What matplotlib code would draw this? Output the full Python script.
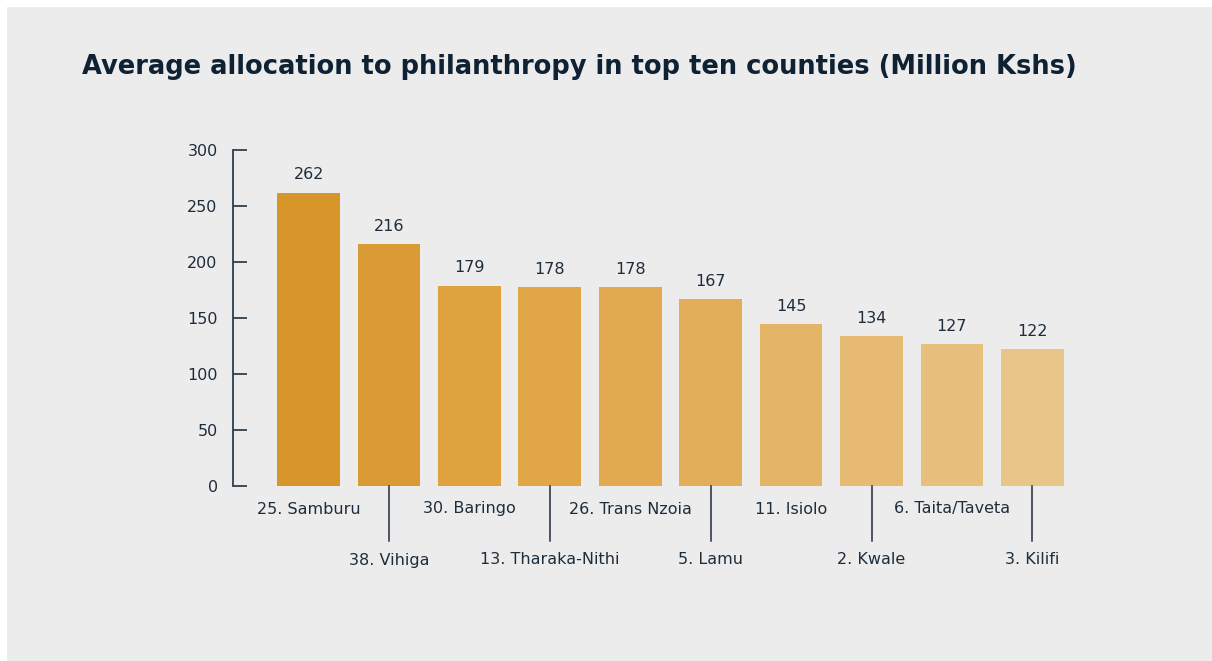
import matplotlib.pyplot as plt
from matplotlib.patches import Rectangle

counties = ["25. Samburu", "38. Vihiga", "30. Baringo", "13. Tharaka-Nithi",
            "26. Trans Nzoia", "5. Lamu", "11. Isiolo", "2. Kwale",
            "6. Taita/Taveta", "3. Kilifi"]
allocation = [262, 216, 179, 178, 178, 167, 145, 134, 127, 122]
bar_colors = ["#d8962a", "#db9b34", "#dea23f", "#e0a648", "#e1aa50",
              "#e2ae5a", "#e4b566", "#e6ba72", "#e7c07d", "#e8c589"]
yticks = [0, 50, 100, 150, 200, 250, 300]

TEXT = "#1e2d3b"
PANEL = "#ececec"

plt.rcParams["font.family"] = ["DejaVu Sans"]

fig = plt.figure(figsize=(12.12, 6.61), dpi=100, facecolor="white")
fig.patches.append(Rectangle((7 / 1212, 0), 1, 1 - 7 / 661,
                             transform=fig.transFigure, facecolor=PANEL,
                             edgecolor="none", zorder=-10))

fig.text(82 / 1212, 1 - 67 / 661,
         "Average allocation to philanthropy in top ten counties (Million Kshs)",
         fontsize=18.5, fontweight="bold", color="#0f2233", va="center", ha="left")

# axes box: spine at x=233, y=0 at 486, y=300 at 150
W, H = 1212, 661
x0, x1 = 233, 1075
y0, y1 = 486, 150
ax = fig.add_axes([x0 / W, 1 - y0 / H, (x1 - x0) / W, (y0 - y1) / H])
ax.set_facecolor("none")

xs = range(len(counties))
ax.bar(xs, allocation, width=0.78, color=bar_colors, zorder=2)
ax.set_xlim(-0.94, 9.53)
ax.set_ylim(0, 300)

for x, v in zip(xs, allocation):
    ax.text(x, v + 9, str(v), ha="center", va="bottom", fontsize=11.5, color=TEXT)

ax.set_yticks(yticks)
ax.tick_params(axis="y", direction="in", length=10, width=1.3, color="#2e3f4e",
               labelsize=11.5, labelcolor=TEXT, pad=11)
ax.set_xticks([])
for side in ["top", "right", "bottom"]:
    ax.spines[side].set_visible(False)
ax.spines["left"].set_color("#2e3f4e")
ax.spines["left"].set_linewidth(1.3)

# staggered category labels below the bars
trans = ax.get_xaxis_transform()
px = 1 / (y0 - y1)
for i, name in enumerate(counties):
    if i % 2 == 0:
        ax.text(i, -23 * px, name, transform=trans, ha="center", va="center",
                fontsize=11.5, color=TEXT, clip_on=False)
    else:
        ax.plot([i, i], [0, -55 * px], transform=trans, color="#1e2d3b",
                lw=1.1, clip_on=False)
        ax.text(i, -74 * px, name, transform=trans, ha="center", va="center",
                fontsize=11.5, color=TEXT, clip_on=False)

fig.savefig("out.png", dpi=100, facecolor="white")
